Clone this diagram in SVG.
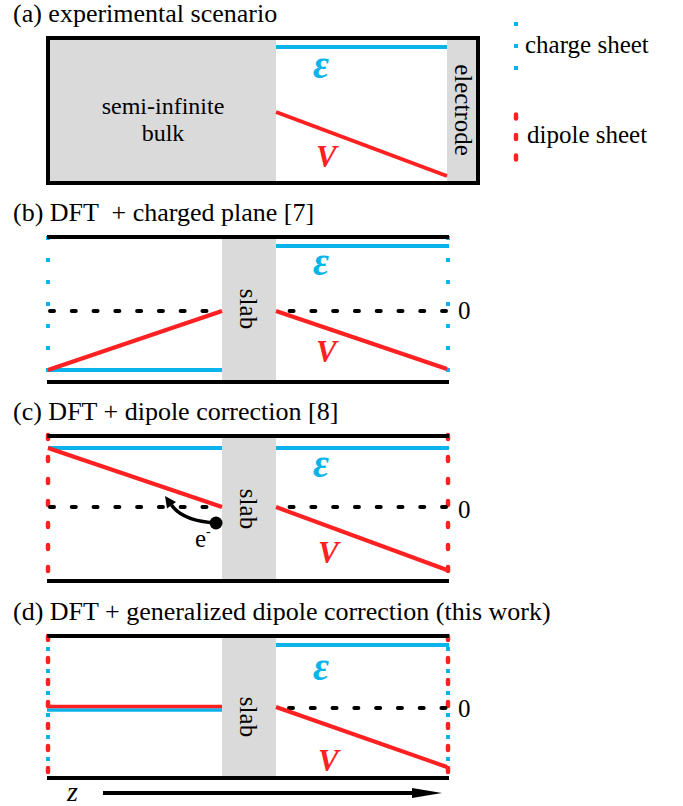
<svg xmlns="http://www.w3.org/2000/svg" width="683" height="806" viewBox="0 0 683 806" font-family="'Liberation Serif','Times New Roman',serif">
<defs>
<style>
text{font-family:'Liberation Serif','Times New Roman',serif;fill:#000}
.t{font-size:26px;white-space:pre}
.lbl{font-size:25px}
.eps{font-size:39px;font-weight:bold;font-style:italic;fill:#0ab4ea}
.v{font-size:31px;font-weight:bold;font-style:italic;fill:#ff2121}
.blk{stroke:#000;stroke-width:4;fill:none}
.blue{stroke:#0ab4ea;stroke-width:4;fill:none}
.red{stroke:#ff2121;stroke-width:4;fill:none}
.gray{fill:#dadada}
.zero{stroke:#000;stroke-width:4;stroke-dasharray:4 17.78;stroke-linecap:round;fill:none}
.cdot{stroke:#0ab4ea;stroke-width:4;stroke-dasharray:4 18;fill:none}
.ddot{stroke:#ff2121;stroke-width:4.5;stroke-dasharray:4 18;stroke-linecap:round;fill:none}
</style>
</defs>
<rect width="683" height="806" fill="#fff"/>

<g id="panel-a">
<text class="t" x="13" y="22">(a) experimental scenario</text>
<rect class="gray" x="48" y="38" width="228" height="145"/>
<rect class="gray" x="447" y="38" width="31" height="145"/>
<rect class="blk" x="48" y="38" width="430" height="145"/>
<line class="blue" x1="276" y1="47" x2="447" y2="47"/>
<line class="red" x1="276" y1="112" x2="447" y2="176"/>
<text x="163" y="114" text-anchor="middle" style="font-size:24px">semi-infinite</text>
<text x="163" y="141" text-anchor="middle" style="font-size:24px">bulk</text>
<text class="lbl" transform="translate(455,110) rotate(90)" text-anchor="middle">electrode</text>
<text class="eps" x="313" y="78">ε</text>
<text class="v" x="316" y="167">V</text>
</g>

<g id="legend">
<path class="cdot" d="M516 22 V72"/>
<text class="lbl" x="525" y="53">charge sheet</text>
<path class="ddot" d="M516 114.5 V162" style="stroke-dasharray:4 16.5"/>
<text class="lbl" x="527" y="143">dipole sheet</text>
</g>

<g id="panel-b">
<text class="t" x="13" y="221">(b) DFT  + charged plane [7]</text>
<path class="cdot" d="M48 236 V372 M448 236 V372"/>
<path class="zero" d="M50 311 H446"/>
<rect class="gray" x="222" y="237" width="54" height="145"/>
<line class="blue" x1="276" y1="246" x2="449" y2="246"/>
<line class="blue" x1="48" y1="370" x2="222" y2="370"/>
<line class="red" x1="48" y1="370" x2="222" y2="311"/>
<line class="red" x1="276" y1="311" x2="447" y2="369"/>
<line class="blk" x1="47" y1="237" x2="449" y2="237"/>
<line class="blk" x1="47" y1="382" x2="449" y2="382"/>
<text class="lbl" transform="translate(240,309) rotate(90)" text-anchor="middle">slab</text>
<text class="eps" x="313" y="275">ε</text>
<text class="v" x="316" y="362">V</text>
<text class="lbl" x="458" y="319">0</text>
</g>

<g id="panel-c">
<text class="t" x="13" y="420">(c) DFT + dipole correction [8]</text>
<path class="ddot" d="M48 435 V575 M448 435 V575"/>
<path class="zero" d="M50 507 H446"/>
<line class="blue" x1="48" y1="448" x2="449" y2="448"/>
<rect class="gray" x="222" y="436" width="54" height="145"/>
<line class="red" x1="48" y1="448" x2="222" y2="507"/>
<line class="red" x1="276" y1="507" x2="447" y2="570"/>
<line class="blk" x1="47" y1="436" x2="449" y2="436"/>
<line class="blk" x1="47" y1="581" x2="449" y2="581"/>
<text class="lbl" transform="translate(240,509) rotate(90)" text-anchor="middle">slab</text>
<text class="eps" x="313" y="477">ε</text>
<text class="v" x="318" y="563">V</text>
<text class="lbl" x="458" y="518">0</text>
<g id="electron">
<circle cx="216" cy="523" r="6.5" fill="#000"/>
<path d="M216 523 C198 522 180 517 171.5 505" stroke="#000" stroke-width="3.5" fill="none"/>
<polygon points="165,496 176,502 167,508.5" fill="#000"/>
<text class="lbl" x="195" y="547">e<tspan dy="-11" style="font-size:14px">-</tspan></text>
</g>
</g>

<g id="panel-d">
<text class="t" x="13" y="620">(d) DFT + generalized dipole correction (this work)</text>
<path class="ddot" d="M48 636 V775 M448 636 V775"/>
<path class="cdot" d="M48 647 V762 M448 647 V762"/>
<path class="zero" d="M289 708 H446"/>
<rect class="gray" x="222" y="636" width="54" height="142"/>
<line class="blue" x1="276" y1="645" x2="449" y2="645"/>
<line x1="47" y1="710" x2="222" y2="710" stroke="#0ab4ea" stroke-width="3.5"/>
<line x1="47" y1="706.5" x2="222" y2="706.5" stroke="#ff2121" stroke-width="3.5"/>
<line class="red" x1="276" y1="707" x2="447" y2="767"/>
<line class="blk" x1="47" y1="636" x2="449" y2="636"/>
<line class="blk" x1="47" y1="778" x2="449" y2="778"/>
<text class="lbl" transform="translate(240,717) rotate(90)" text-anchor="middle">slab</text>
<text class="eps" x="313" y="680">ε</text>
<text class="v" x="318" y="771">V</text>
<text class="lbl" x="458" y="717">0</text>
</g>

<g id="axis">
<line x1="103" y1="793" x2="415" y2="793" stroke="#000" stroke-width="4"/>
<polygon points="412,788 442,793 412,798" fill="#000"/>
<text x="67" y="801" style="font-size:28px;font-style:italic">z</text>
</g>
</svg>
